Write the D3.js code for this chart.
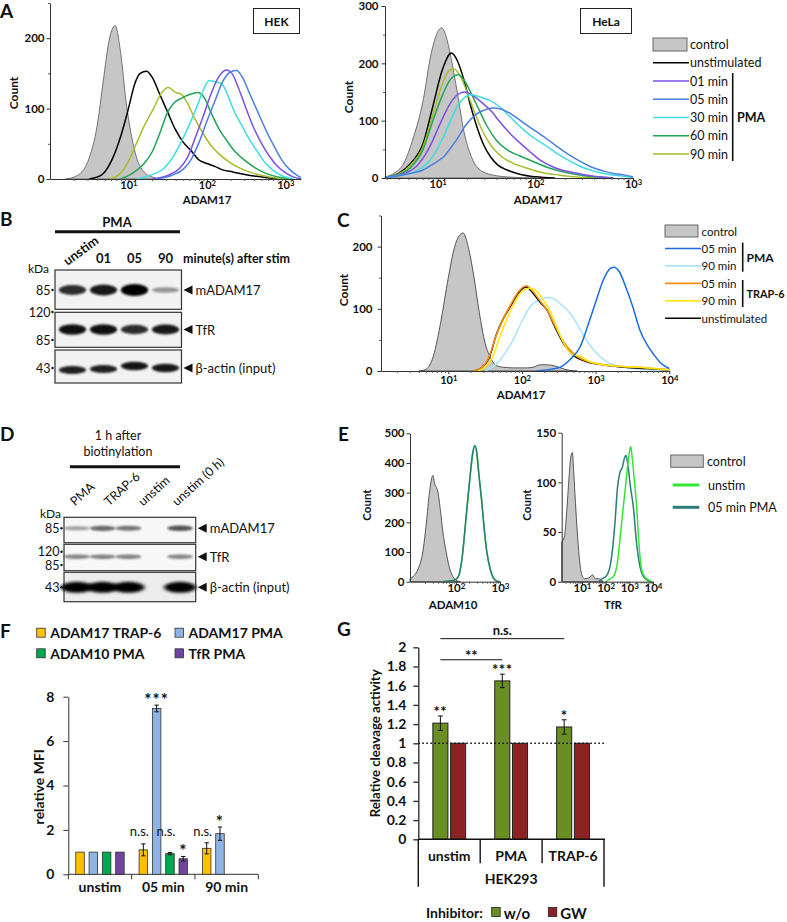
<!DOCTYPE html>
<html><head><meta charset="utf-8">
<script src="https://cdn.jsdelivr.net/npm/d3@7"></script>
<style>body{margin:0;background:#fff;} text{font-family:Lato,'Open Sans',sans-serif;fill:#111;}</style>
</head><body>
<script>
// ================= DATA =================
// Histograms: [log10 fluorescence intensity, count]
// Panel A — HEK
const hekControl = [[0.2,0],[0.35,5],[0.5,30],[0.6,75],[0.68,140],[0.75,195],[0.83,218],[0.9,180],[0.97,110],[1.05,55],[1.12,25],[1.2,10],[1.3,3],[1.4,0]];
const hekUnstim = [[0.5,0],[0.65,5],[0.78,25],[0.9,60],[1.0,100],[1.08,135],[1.15,150],[1.23,153],[1.3,145],[1.4,120],[1.5,95],[1.6,70],[1.7,52],[1.8,40],[1.9,27],[2.0,22],[2.1,18],[2.2,13],[2.33,10],[2.5,6],[2.7,3],[2.9,0]];
const hek01 = [[1.3,0],[1.5,5],[1.65,15],[1.75,30],[1.85,58],[1.95,88],[2.05,120],[2.15,145],[2.25,155],[2.32,150],[2.4,130],[2.5,100],[2.6,72],[2.7,50],[2.8,32],[2.9,18],[3.0,9],[3.1,3],[3.2,0]];
const hek05 = [[1.35,0],[1.55,5],[1.7,14],[1.8,28],[1.9,52],[2.0,82],[2.1,110],[2.2,138],[2.3,152],[2.38,154],[2.45,145],[2.55,120],[2.65,95],[2.75,70],[2.85,48],[2.95,28],[3.05,14],[3.15,5],[3.2,2]];
const hek30 = [[1.1,0],[1.3,6],[1.45,15],[1.55,28],[1.66,50],[1.78,78],[1.87,102],[1.95,125],[2.03,140],[2.1,138],[2.19,135],[2.27,118],[2.34,98],[2.45,75],[2.55,55],[2.65,38],[2.75,22],[2.85,12],[2.95,5],[3.1,0]];
const hek60 = [[0.9,0],[1.05,8],[1.2,22],[1.3,38],[1.4,65],[1.5,95],[1.58,108],[1.68,115],[1.78,120],[1.88,123],[1.97,115],[2.05,95],[2.15,72],[2.25,55],[2.35,40],[2.5,25],[2.6,17],[2.75,8],[2.9,3],[3.1,0]];
const hek90 = [[0.75,0],[0.9,8],[1.0,25],[1.1,50],[1.2,75],[1.32,100],[1.42,122],[1.51,130],[1.6,123],[1.68,120],[1.75,108],[1.85,85],[1.95,65],[2.05,48],[2.15,36],[2.3,23],[2.45,14],[2.6,8],[2.8,3],[3.0,0]];
// Panel A — HeLa
const helaControl = [[0.46,2],[0.55,8],[0.65,25],[0.75,70],[0.85,135],[0.93,215],[1.0,255],[1.04,262],[1.08,250],[1.13,215],[1.2,150],[1.27,80],[1.35,35],[1.45,12],[1.6,4],[1.8,1],[2.0,0]];
const helaUnstim = [[0.46,1],[0.6,8],[0.72,25],[0.85,60],[0.95,125],[1.05,190],[1.14,218],[1.2,205],[1.27,170],[1.33,130],[1.4,90],[1.47,58],[1.54,37],[1.62,22],[1.71,14],[1.85,6],[2.0,2],[2.2,0]];
const hela01 = [[0.46,1],[0.6,5],[0.78,20],[0.92,55],[1.0,85],[1.08,115],[1.16,138],[1.23,148],[1.28,150],[1.35,145],[1.45,132],[1.54,118],[1.65,95],[1.75,76],[1.85,60],[1.95,45],[2.05,31],[2.2,18],[2.4,9],[2.6,3],[2.8,0]];
const hela05 = [[0.46,1],[0.6,4],[0.75,9],[0.85,14],[0.95,24],[1.06,37],[1.19,66],[1.3,95],[1.4,112],[1.5,120],[1.57,122],[1.65,120],[1.75,112],[1.88,96],[2.0,82],[2.12,68],[2.22,55],[2.35,40],[2.45,30],[2.56,20],[2.7,12],[2.8,8],[2.92,5],[3.0,2]];
const hela30 = [[0.46,1],[0.6,4],[0.78,12],[0.92,31],[1.06,72],[1.15,108],[1.22,130],[1.3,143],[1.35,145],[1.42,142],[1.54,135],[1.65,122],[1.75,105],[1.88,84],[2.0,68],[2.12,55],[2.22,43],[2.35,30],[2.45,21],[2.56,14],[2.7,8],[2.9,3],[3.0,1]];
const hela60 = [[0.46,1],[0.6,6],[0.72,18],[0.85,50],[0.95,100],[1.05,145],[1.13,172],[1.21,180],[1.28,168],[1.35,145],[1.42,120],[1.5,92],[1.6,66],[1.72,48],[1.85,38],[2.0,27],[2.15,17],[2.3,10],[2.5,4],[2.8,0]];
const hela90 = [[0.46,1],[0.6,7],[0.72,22],[0.85,55],[0.95,110],[1.05,165],[1.12,188],[1.17,190],[1.23,178],[1.3,150],[1.37,118],[1.45,85],[1.54,58],[1.65,38],[1.78,25],[1.9,18],[2.05,10],[2.25,5],[2.5,1],[2.7,0]];
const legendA = ["control","unstimulated","01 min","05 min","30 min","60 min","90 min"];
// Panel C
const cControl = [[0.6,0],[0.7,3],[0.8,25],[0.9,80],[1.0,150],[1.1,205],[1.2,222],[1.28,195],[1.35,150],[1.42,95],[1.5,45],[1.58,20],[1.65,9],[1.75,6],[1.9,5],[2.05,5],[2.15,6],[2.25,10],[2.35,10],[2.45,8],[2.55,4],[2.65,1],[2.75,0]];
const cUnstim = [[1.35,0],[1.45,5],[1.55,20],[1.66,61],[1.75,85],[1.84,103],[1.95,125],[2.06,135],[2.15,125],[2.25,110],[2.34,98],[2.45,70],[2.56,45],[2.7,25],[2.88,15],[3.1,10],[3.4,6],[3.7,4],[4.0,2]];
const cPMA05 = [[2.2,0],[2.4,3],[2.52,6],[2.65,18],[2.79,39],[2.9,75],[3.01,114],[3.1,145],[3.2,165],[3.25,167],[3.32,160],[3.4,138],[3.5,105],[3.6,66],[3.7,42],[3.78,28],[3.9,11],[4.0,4]];
const cPMA90 = [[1.5,0],[1.61,7],[1.75,25],[1.88,50],[2.0,80],[2.12,105],[2.25,115],[2.38,118],[2.5,110],[2.6,100],[2.7,85],[2.79,66],[2.9,45],[3.01,29],[3.15,15],[3.33,7],[3.6,3],[4.0,1]];
const cTRAP05 = [[1.35,0],[1.45,5],[1.55,22],[1.66,60],[1.75,85],[1.84,105],[1.95,127],[2.06,137],[2.15,128],[2.25,112],[2.34,98],[2.45,72],[2.56,48],[2.7,28],[2.88,16],[3.1,10],[3.4,7],[3.7,5],[4.0,2]];
const cTRAP90 = [[1.4,0],[1.5,6],[1.6,22],[1.7,55],[1.8,85],[1.9,110],[2.0,128],[2.1,133],[2.2,128],[2.3,112],[2.4,92],[2.5,62],[2.6,38],[2.7,26],[2.78,24],[2.9,16],[3.1,10],[3.4,7],[3.7,5],[4.0,2]];
// Panel E
const eA10Control = [[0.96,10],[1.05,20],[1.15,45],[1.25,100],[1.33,197],[1.4,300],[1.48,358],[1.52,330],[1.59,305],[1.65,240],[1.7,174],[1.78,100],[1.85,50],[1.93,18],[2.0,6],[2.1,0]];
const eA10Unstim = [[1.7,0],[1.9,3],[2.0,8],[2.07,22],[2.15,90],[2.22,197],[2.28,290],[2.33,365],[2.38,430],[2.43,460],[2.48,430],[2.52,365],[2.58,280],[2.63,197],[2.7,100],[2.78,40],[2.85,12],[2.92,3],[3.0,0]];
const eA10PMA = [[1.7,0],[1.9,3],[2.0,8],[2.07,22],[2.15,92],[2.22,200],[2.28,295],[2.33,368],[2.38,432],[2.43,458],[2.48,425],[2.52,362],[2.58,280],[2.63,198],[2.7,102],[2.78,42],[2.85,13],[2.92,3],[3.0,0]];
const eTfRControl = [[0.14,40],[0.25,45],[0.35,70],[0.45,105],[0.52,125],[0.59,130],[0.65,110],[0.72,80],[0.8,50],[0.88,25],[0.99,7],[1.1,3],[1.3,4],[1.45,7],[1.55,3],[1.7,3],[1.9,0]];
const eTfRUnstim = [[2.0,0],[2.2,3],[2.35,6],[2.5,20],[2.6,42],[2.72,70],[2.82,92],[2.92,115],[3.0,130],[3.06,136],[3.12,125],[3.2,105],[3.31,75],[3.4,40],[3.52,12],[3.65,5],[3.8,2],[3.95,0]];
const eTfRPMA = [[1.7,0],[1.85,3],[2.0,5],[2.18,15],[2.3,35],[2.39,59],[2.5,95],[2.6,110],[2.7,115],[2.8,125],[2.86,127],[2.95,115],[3.05,95],[3.17,75],[3.3,40],[3.45,15],[3.6,5],[3.8,1],[3.95,0]];
// Western blots (relative band intensity per lane)
const blotBLanes = ["unstim","01","05","90"];
const blotB_mADAM17 = [0.78, 0.88, 1.0, 0.28];
const blotB_TfR = [0.92, 0.92, 0.78, 0.88];
const blotB_actin = [0.85, 0.85, 0.9, 0.88];
const blotDLanes = ["PMA","TRAP-6","unstim","","unstim (0 h)"];
const blotD_mADAM17 = [0.25, 0.5, 0.45, null, 0.6];
const blotD_TfR = [0.38, 0.4, 0.4, null, 0.38];
const blotD_actin = [1, 1, 1, null, 1];
// Panel F
const fGroups = ["unstim","05 min","90 min"];
const fSeries = ["ADAM17 TRAP-6","ADAM17 PMA","ADAM10 PMA","TfR PMA"];
const fValues = [[1,1,1,1],[1.1,7.47,0.93,0.7],[1.17,1.83,null,null]];
const fErrors = [[0,0,0,0],[0.27,0.15,0.05,0.1],[0.25,0.3,null,null]];
const fSig = [["","","",""],["n.s.","***","n.s.","*"],["n.s.","*","",""]];
const fTicks = [0,2,4,6,8];
// Panel G
const gGroups = ["unstim","PMA","TRAP-6"];
const gSeries = ["w/o","GW"];
const gValues = [[1.21,1],[1.65,1],[1.17,1]];
const gErrors = [[0.075,0],[0.07,0],[0.075,0]];
const gSig = [["**",""],["***",""],["*",""]];
const gBrackets = [{from:"unstim",to:"PMA",label:"**",level:1.87},{from:"unstim",to:"TRAP-6",label:"n.s.",level:2.09}];
const gTicks = [0,0.2,0.4,0.6,0.8,1,1.2,1.4,1.6,1.8,2];

// ================= DRAWING =================
const svg = d3.select("body").append("svg").attr("width",787).attr("height",922);
svg.append("rect").attr("width",787).attr("height",922).attr("fill","#fff");
const defs = svg.append("defs");
defs.append("filter").attr("id","blur").attr("x","-30%").attr("y","-100%").attr("width","160%").attr("height","300%")
  .append("feGaussianBlur").attr("stdDeviation","1.3 1.1");
defs.append("filter").attr("id","blur2").attr("x","-30%").attr("y","-100%").attr("width","160%").attr("height","300%")
  .append("feGaussianBlur").attr("stdDeviation","2 1.4");

function txt(x,y,s,opt={}){
  const t = svg.append("text").attr("x",x).attr("y",y).text(s)
    .attr("font-size",opt.size||12).attr("font-weight",opt.weight||"normal")
    .attr("text-anchor",opt.anchor||"start").attr("dominant-baseline",opt.base||"central");
  if(opt.rotate!==undefined) t.attr("transform",`rotate(${opt.rotate},${x},${y})`);
  if(opt.len) t.attr("textLength",opt.len).attr("lengthAdjust","spacingAndGlyphs");
  return t;
}
function panelLetter(x,y,s){ txt(x,y,s,{size:19,weight:"bold",base:"auto"}); }

function styleAxis(g,size,weight){
  g.attr("font-family",null).attr("font-size",null);
  g.select(".domain").attr("stroke","#333").attr("stroke-width",1);
  g.selectAll(".tick line").attr("stroke","#333");
  g.selectAll(".tick text").attr("font-size",size).attr("font-weight",weight).attr("fill","#111")
   .style("font-family","Lato, sans-serif");
}
function supLabels(g){
  g.selectAll(".tick text").each(function(d){
    const t=d3.select(this); const e=Math.round(Math.log10(d));
    t.text(null);
    t.append("tspan").text("10");
    t.append("tspan").attr("dy","-0.45em").attr("font-size","0.7em").text(e);
  });
}

function histogram(o){
  const x = d3.scaleLog().domain([10**o.xd[0],10**o.xd[1]]).range(o.xr);
  const y = d3.scaleLinear().domain(o.yd).range(o.yr);
  const g = svg.append("g");
  const line = d3.line().x(d=>x(10**d[0])).y(d=>y(d[1])).curve(d3.curveMonotoneX);
  const area = d3.area().x(d=>x(10**d[0])).y0(y(0)).y1(d=>y(d[1])).curve(d3.curveMonotoneX);
  o.series.forEach(s=>{
    if(s.fill) g.append("path").attr("d",area(s.data)).attr("fill",s.fill).attr("stroke",s.color).attr("stroke-width",0.8);
    else g.append("path").attr("d",line(s.data)).attr("fill","none").attr("stroke",s.color).attr("stroke-width",s.w||1.5).attr("stroke-linejoin","round");
  });
  const xa = g.append("g").attr("transform",`translate(0,${o.yr[0]})`)
    .call(d3.axisBottom(x).tickValues(o.xt.map(e=>10**e)).tickSize(3).tickSizeOuter(0).tickPadding(o.xPad));
  styleAxis(xa,o.fs||11,"bold"); supLabels(xa);
  const minors=[];
  for(let e=Math.floor(o.xd[0]); e<Math.ceil(o.xd[1]); e++) for(let m=2;m<=9;m++){ const v=m*10**e; if(v>=10**o.xd[0] && v<=10**o.xd[1]) minors.push(v); }
  const xm = g.append("g").attr("transform",`translate(0,${o.yr[0]})`).call(d3.axisBottom(x).tickValues(minors).tickSize(2).tickFormat(""));
  xm.select(".domain").remove(); xm.selectAll(".tick line").attr("stroke","#555");
  const ya = g.append("g").attr("transform",`translate(${o.xr[0]},0)`)
    .call(d3.axisLeft(y).tickValues(o.yt).tickSize(3.5).tickSizeOuter(0).tickPadding(o.yPad).tickFormat(d3.format("d")));
  styleAxis(ya,o.fs||11.5,"bold");
  if(o.ym){ const ymg=g.append("g").attr("transform",`translate(${o.xr[0]},0)`).call(d3.axisLeft(y).tickValues(o.ym).tickSize(2).tickFormat(""));
    ymg.select(".domain").remove(); ymg.selectAll(".tick line").attr("stroke","#555"); }
  txt(o.xl[1],o.xl[2],o.xl[0],{size:o.fs||11.5,weight:"bold",anchor:"middle"});
  txt(o.yl[1],o.yl[2],"Count",{size:o.fs||12,weight:"bold",anchor:"middle",rotate:-90});
  return {x,y};
}

// ---------- Panel A ----------
const colA = {control:"#c6c6c6",unstimulated:"#000","01 min":"#7a50e6","05 min":"#4c7fe2","30 min":"#3fdde0","60 min":"#22a356","90 min":"#a6be2c"};
panelLetter(0,18,"A");
histogram({xd:[0,3.2],xr:[50,301],yd:[0,250],yr:[179,3],xt:[1,2,3],yt:[0,100,200],ym:[50,150,250],xPad:-0.5,yPad:2,
  xl:["ADAM17",207,199.5],yl:[null,13,93],
  series:[{data:hekControl,fill:colA.control,color:"#555"},{data:hekUnstim,color:colA.unstimulated},{data:hek90,color:colA["90 min"]},
    {data:hek60,color:colA["60 min"]},{data:hek30,color:colA["30 min"]},{data:hek01,color:colA["01 min"]},{data:hek05,color:colA["05 min"]}]});
svg.append("rect").attr("x",253.5).attr("y",8.5).attr("width",46).attr("height",25).attr("fill","#fff").attr("stroke","#222").attr("stroke-width",1);
txt(276.5,21,"HEK",{size:12,weight:"bold",anchor:"middle"});

histogram({xd:[0.46,3],xr:[385,633],yd:[0,300],yr:[178,6],xt:[1,2,3],yt:[0,100,200,300],ym:[50,150,250],xPad:-0.5,yPad:3,
  xl:["ADAM17",538,199.5],yl:[null,348,97],
  series:[{data:helaControl,fill:colA.control,color:"#555"},{data:helaUnstim,color:colA.unstimulated},{data:hela90,color:colA["90 min"]},
    {data:hela60,color:colA["60 min"]},{data:hela01,color:colA["01 min"]},{data:hela30,color:colA["30 min"]},{data:hela05,color:colA["05 min"]}]});
svg.append("rect").attr("x",580.5).attr("y",8.5).attr("width",51).attr("height",25).attr("fill","#fff").attr("stroke","#222").attr("stroke-width",1);
txt(606,21,"HeLa",{size:12,weight:"bold",anchor:"middle"});

// legend A
const legA = d3.scalePoint().domain(legendA).range([44.5,154]);
legendA.forEach(k=>{
  const yy = legA(k);
  if(k==="control") svg.append("rect").attr("x",653).attr("y",yy-6.5).attr("width",34).attr("height",13).attr("fill",colA.control).attr("stroke","#666");
  else svg.append("line").attr("x1",653).attr("x2",689).attr("y1",yy).attr("y2",yy).attr("stroke",colA[k]).attr("stroke-width",1.6);
  txt(690,yy,k,{size:12.5});
});
svg.append("line").attr("x1",732.7).attr("x2",732.7).attr("y1",73).attr("y2",161).attr("stroke","#111").attr("stroke-width",1.6);
txt(737,117,"PMA",{size:12.5,weight:"bold"});

// ---------- Panel B (western blot) ----------
panelLetter(0,226,"B");
txt(117,222,"PMA",{size:13,weight:"bold",anchor:"middle"});
svg.append("line").attr("x1",55).attr("x2",180).attr("y1",231.7).attr("y2",231.7).attr("stroke","#111").attr("stroke-width",3);
const laneB = d3.scaleBand().domain(blotBLanes).range([57,181]);
blotBLanes.forEach((l,i)=>{
  if(i===0) txt(laneB(l)+laneB.bandwidth()/2-5,266,l,{size:13,weight:"bold",base:"auto",rotate:-36});
  else txt(laneB(l)+laneB.bandwidth()/2,258,l,{size:13,weight:"bold",anchor:"middle"});
});
txt(183,258,"minute(s) after stim",{size:12.5,weight:"bold"});
txt(28,268,"kDa",{size:12});
function blotRow(o){
  svg.append("rect").attr("x",o.x0).attr("y",o.y0).attr("width",o.x1-o.x0).attr("height",o.y1-o.y0)
    .attr("fill",o.bg||"#f2f2f2").attr("stroke","#333").attr("stroke-width",1.2);
  o.values.forEach((v,i)=>{
    if(v===null) return;
    const cx = o.scale(o.lanes[i])+o.scale.bandwidth()/2;
    svg.append("ellipse").attr("cx",cx).attr("cy",o.cy+(o.dy?o.dy[i]:0))
      .attr("rx",o.scale.bandwidth()*(o.wf||0.44)).attr("ry",o.h0+o.h1*v)
      .attr("fill","#000").attr("opacity",Math.min(1,0.15+0.85*v)).attr("filter",o.heavy?"url(#blur2)":"url(#blur)");
  });
  o.markers.forEach(m=>{
    txt(o.x0-4.5,m[1],m[0],{size:12.5,anchor:"end"});
    svg.append("circle").attr("cx",o.x0-2.5).attr("cy",m[1]).attr("r",1.2).attr("fill","#111");
  });
  const ax=o.x1+2;
  svg.append("path").attr("d",`M${ax},${o.cy}L${ax+9},${o.cy-4.5}L${ax+9},${o.cy+4.5}Z`).attr("fill","#111");
  txt(ax+12,o.cy,o.label,{size:13});
}
blotRow({x0:55,x1:181.5,y0:270,y1:309.3,cy:290,values:blotB_mADAM17,lanes:blotBLanes,scale:laneB,h0:1.5,h1:4.5,label:"mADAM17",markers:[["85",290]]});
blotRow({x0:55,x1:181.5,y0:312.3,y1:347.3,cy:329.5,values:blotB_TfR,lanes:blotBLanes,scale:laneB,h0:2,h1:3.5,label:"TfR",markers:[["120",312],["85",340]]});
blotRow({x0:55,x1:181.5,y0:350,y1:383,cy:368,dy:[2,1,-2,0],values:blotB_actin,lanes:blotBLanes,scale:laneB,h0:1.5,h1:3,label:"β-actin (input)",markers:[["43",368]]});

// ---------- Panel C ----------
panelLetter(337,227,"C");
const colC = {control:"#c6c6c6",pma05:"#1c6be0",pma90:"#ade3f6",trap05:"#ff8c0a",trap90:"#ffe614",unstim:"#000"};
histogram({xd:[0.087,4],xr:[381,669.3],yd:[0,250],yr:[371,215.5],xt:[1,2,3,4],yt:[0,100,200],ym:[50,150,250],xPad:2.5,yPad:5,
  xl:["ADAM17",521,394.5],yl:[null,343,290],
  series:[{data:cControl,fill:colC.control,color:"#333"},{data:cPMA90,color:colC.pma90},{data:cUnstim,color:colC.unstim},
    {data:cTRAP05,color:colC.trap05},{data:cTRAP90,color:colC.trap90},{data:cPMA05,color:colC.pma05}]});
const legendC = [["control",colC.control],["05 min",colC.pma05],["90 min",colC.pma90],["05 min",colC.trap05],["90 min",colC.trap90],["unstimulated",colC.unstim]];
const legC = d3.scaleLinear().domain([0,5]).range([231,318.3]);
legendC.forEach((d,i)=>{
  const yy = legC(i);
  if(i===0) svg.append("rect").attr("x",665).attr("y",yy-6).attr("width",33).attr("height",12).attr("fill",d[1]).attr("stroke","#666");
  else svg.append("line").attr("x1",665).attr("x2",701).attr("y1",yy).attr("y2",yy).attr("stroke",d[1]).attr("stroke-width",1.6);
  txt(701.5,yy,d[0],{size:11.5});
});
svg.append("line").attr("x1",742.7).attr("x2",742.7).attr("y1",242.7).attr("y2",271.7).attr("stroke","#111").attr("stroke-width",1.6);
svg.append("line").attr("x1",742.7).attr("x2",742.7).attr("y1",280).attr("y2",307).attr("stroke","#111").attr("stroke-width",1.6);
txt(746.5,257,"PMA",{size:12,weight:"bold"});
txt(746.5,293,"TRAP-6",{size:12,weight:"bold",len:38});

// ---------- Panel D (western blot) ----------
panelLetter(0,441,"D");
txt(118,435,"1 h after",{size:12.5,anchor:"middle"});
txt(118,451.5,"biotinylation",{size:12.5,anchor:"middle"});
svg.append("line").attr("x1",70).attr("x2",180).attr("y1",466.7).attr("y2",466.7).attr("stroke","#111").attr("stroke-width",3);
const labD = d3.scalePoint().domain(blotDLanes.filter(d=>d)).range([75,177]);
blotDLanes.filter(d=>d).forEach(l=>txt(labD(l),506.5,l,{size:12.5,base:"auto",rotate:-42}));
txt(40,513,"kDa",{size:12});
const laneD = d3.scaleBand().domain(blotDLanes).range([64,193]);
blotRow({x0:64,x1:195.7,y0:517.3,y1:542.7,cy:528.3,values:blotD_mADAM17,lanes:blotDLanes,scale:laneD,h0:1.5,h1:2.2,wf:0.5,bg:"#f7f7f7",label:"mADAM17",markers:[["85",528.3]]});
blotRow({x0:64,x1:195.7,y0:544.3,y1:570.7,cy:556.7,values:blotD_TfR,lanes:blotDLanes,scale:laneD,h0:1.5,h1:2,wf:0.5,bg:"#f7f7f7",label:"TfR",markers:[["120",551.7],["85",565]]});
blotRow({x0:64,x1:195.7,y0:572.3,y1:601.7,cy:587.3,values:blotD_actin,lanes:blotDLanes,scale:laneD,h0:2,h1:3.5,wf:0.62,heavy:true,bg:"#ededed",label:"β-actin (input)",markers:[["43",587.3]]});

// ---------- Panel E ----------
panelLetter(338,441,"E");
const colE = {control:"#c6c6c6",unstim:"#33e633",pma:"#2e7b78"};
histogram({xd:[0.96,3],xr:[410,500],yd:[0,500],yr:[581.7,433.3],xt:[2,3],yt:[0,100,200,300,400,500],xPad:-0.5,yPad:2,fs:11.5,
  xl:["ADAM10",453,604.5],yl:[null,366.7,505],
  series:[{data:eA10Control,fill:colE.control,color:"#333"},{data:eA10Unstim,color:colE.unstim},{data:eA10PMA,color:colE.pma}]});
histogram({xd:[0.14,4],xr:[561.7,653],yd:[0,150],yr:[581.7,432.7],xt:[1,2,3,4],yt:[0,50,100,150],xPad:-0.5,yPad:2,fs:11.5,
  xl:["TfR",613,604.5],yl:[null,526.7,505],
  series:[{data:eTfRControl,fill:colE.control,color:"#333"},{data:eTfRPMA,color:colE.pma},{data:eTfRUnstim,color:colE.unstim}]});
svg.append("rect").attr("x",670.7).attr("y",455).attr("width",32.6).attr("height",12.3).attr("fill",colE.control).attr("stroke","#666");
txt(707,461,"control",{size:12.5});
svg.append("line").attr("x1",672.7).attr("x2",699.3).attr("y1",485).attr("y2",485).attr("stroke",colE.unstim).attr("stroke-width",3);
txt(708,485,"unstim",{size:12.5});
svg.append("line").attr("x1",672.7).attr("x2",699.3).attr("y1",507.3).attr("y2",507.3).attr("stroke",colE.pma).attr("stroke-width",3);
txt(708,507.3,"05 min PMA",{size:12.5});

// ---------- Panel F ----------
panelLetter(0,638,"F");
const colF = {"ADAM17 TRAP-6":"#ffc000","ADAM17 PMA":"#8eb4e3","ADAM10 PMA":"#00a84f","TfR PMA":"#7044a0"};
fSeries.forEach((s,i)=>{
  const cx = i%2===0?36.7:175, cy = i<2?632.7:653.3;
  svg.append("rect").attr("x",cx).attr("y",cy-4.5).attr("width",8.5).attr("height",9).attr("fill",colF[s]).attr("stroke","#333").attr("stroke-width",0.8);
  txt(cx+13.5,cy,s,{size:14,weight:"bold"});
});
const xF0 = d3.scaleBand().domain(fGroups).range([68.3,258.3]);
const xF1 = d3.scaleBand().domain(fSeries).range([0,xF0.bandwidth()]).paddingInner(0.36).paddingOuter(0.56);
const yF = d3.scaleLinear().domain([0,8]).range([874.3,696.7]);
const yFa = svg.append("g").attr("transform","translate(68.3,0)").call(d3.axisLeft(yF).tickValues(fTicks).tickSize(5).tickPadding(9).tickSizeOuter(0));
styleAxis(yFa,14,"bold");
svg.append("line").attr("x1",68.3).attr("x2",258.3).attr("y1",874.3).attr("y2",874.3).attr("stroke","#333");
fGroups.concat(["end"]).forEach((g,i)=>{
  const xx = i<fGroups.length? xF0(g) : xF0.range()[1];
  svg.append("line").attr("x1",xx).attr("x2",xx).attr("y1",874.3).attr("y2",879.3).attr("stroke","#333");
});
fGroups.forEach((g,gi)=>{
  txt(xF0(g)+xF0.bandwidth()/2,886,g,{size:14,weight:"bold",anchor:"middle"});
  fSeries.forEach((s,si)=>{
    const v = fValues[gi][si]; if(v===null) return;
    const e = fErrors[gi][si]; const bx = xF0(g)+xF1(s), bw = xF1.bandwidth(), cx = bx+bw/2;
    svg.append("rect").attr("x",bx).attr("y",yF(v)).attr("width",bw).attr("height",yF(0)-yF(v)).attr("fill",colF[s]).attr("stroke","#333").attr("stroke-width",0.8);
    if(e>0){
      svg.append("line").attr("x1",cx).attr("x2",cx).attr("y1",yF(v+e)).attr("y2",yF(v-e)).attr("stroke","#111").attr("stroke-width",1);
      [v+e,v-e].forEach(w=>svg.append("line").attr("x1",cx-2.2).attr("x2",cx+2.2).attr("y1",yF(w)).attr("y2",yF(w)).attr("stroke","#111").attr("stroke-width",1));
    }
    const sg = fSig[gi][si];
    if(sg==="n.s.") txt(cx-4,yF(1.94),sg,{size:13,anchor:"middle"});
    else if(sg) txt(cx,yF(v+e)+0.5,sg,{size:17,weight:"bold",anchor:"middle",base:"auto"}).attr("letter-spacing",1);
  });
});
txt(38.3,786.7,"relative MFI",{size:14,weight:"bold",anchor:"middle",rotate:-90});

// ---------- Panel G ----------
panelLetter(337,636,"G");
const colG = {"w/o":"#6b8e24","GW":"#8b2323"};
const xG0 = d3.scaleBand().domain(gGroups).range([418.3,604]);
const xG1 = d3.scaleBand().domain(gSeries).range([0,xG0.bandwidth()]).paddingInner(0.15).paddingOuter(0.82);
const yG = d3.scaleLinear().domain([0,2]).range([839.3,647.3]);
const yGa = svg.append("g").attr("transform","translate(418.3,0)").call(d3.axisLeft(yG).tickValues(gTicks).tickSize(5).tickPadding(7).tickSizeOuter(0).tickFormat(d=>String(d)));
styleAxis(yGa,14,"bold"); yGa.select(".domain").attr("stroke-width",1.4); yGa.selectAll(".tick line").attr("stroke-width",1.4);
gGroups.forEach((g,gi)=>{
  gSeries.forEach((s,si)=>{
    const v=gValues[gi][si], e=gErrors[gi][si], bx=xG0(g)+xG1(s), bw=xG1.bandwidth(), cx=bx+bw/2;
    svg.append("rect").attr("x",bx).attr("y",yG(v)).attr("width",bw).attr("height",yG(0)-yG(v)).attr("fill",colG[s]).attr("stroke","#222").attr("stroke-width",1);
    if(e>0){
      svg.append("line").attr("x1",cx).attr("x2",cx).attr("y1",yG(v+e)).attr("y2",yG(v-e)).attr("stroke","#111").attr("stroke-width",1);
      [v+e,v-e].forEach(w=>svg.append("line").attr("x1",cx-2.5).attr("x2",cx+2.5).attr("y1",yG(w)).attr("y2",yG(w)).attr("stroke","#111").attr("stroke-width",1));
    }
    if(gSig[gi][si]) txt(cx,yG(v+e)+1,gSig[gi][si],{size:15,weight:"bold",anchor:"middle",base:"auto"}).attr("letter-spacing",0.5);
  });
});
svg.append("line").attr("x1",418.3).attr("x2",606).attr("y1",yG(1)).attr("y2",yG(1)).attr("stroke","#111").attr("stroke-width",1.6).attr("stroke-dasharray","1.6,2.4");
// x axis frame
const gx0=xG0.range()[0], gx1=xG0.range()[1];
svg.append("line").attr("x1",gx0).attr("x2",gx1+1).attr("y1",839.3).attr("y2",839.3).attr("stroke","#111").attr("stroke-width",1.4);
svg.append("line").attr("x1",gx0).attr("x2",gx0).attr("y1",839.3).attr("y2",886.7).attr("stroke","#111").attr("stroke-width",1.4);
svg.append("line").attr("x1",gx1).attr("x2",gx1).attr("y1",839.3).attr("y2",886.7).attr("stroke","#111").attr("stroke-width",1.4);
gGroups.slice(1).forEach(g=>svg.append("line").attr("x1",xG0(g)).attr("x2",xG0(g)).attr("y1",839.3).attr("y2",863.3).attr("stroke","#111").attr("stroke-width",1.4));
gGroups.forEach(g=>txt(xG0(g)+xG0.bandwidth()/2,855,g,{size:14,weight:"bold",anchor:"middle"}));
txt((gx0+gx1)/2,878,"HEK293",{size:14,weight:"bold",anchor:"middle"});
// brackets
gBrackets.forEach(b=>{
  const x1 = xG0(b.from)+xG1("w/o")+xG1.bandwidth()/2, x2 = xG0(b.to)+xG1("w/o")+xG1.bandwidth()/2, yy=yG(b.level);
  svg.append("line").attr("x1",x1).attr("x2",x2).attr("y1",yy).attr("y2",yy).attr("stroke","#111").attr("stroke-width",1);
  if(b.label==="n.s.") txt((x1+x2)/2,yy-9,b.label,{size:13,weight:"bold",anchor:"middle"});
  else txt((x1+x2)/2,yy+1,b.label,{size:15,weight:"bold",anchor:"middle",base:"auto"});
});
txt(375,743.3,"Relative cleavage activity",{size:13.5,weight:"bold",anchor:"middle",rotate:-90,len:148});
// legend G
txt(426,912,"Inhibitor:",{size:14,weight:"bold"});
const legGx = d3.scalePoint().domain(gSeries).range([491.7,548.3]);
gSeries.forEach(s=>{
  svg.append("rect").attr("x",legGx(s)).attr("y",907.5).attr("width",8.5).attr("height",9).attr("fill",colG[s]).attr("stroke","#222").attr("stroke-width",0.8);
  txt(legGx(s)+12,912.5,s,{size:15,weight:"bold"});
});
</script>
</body></html>
